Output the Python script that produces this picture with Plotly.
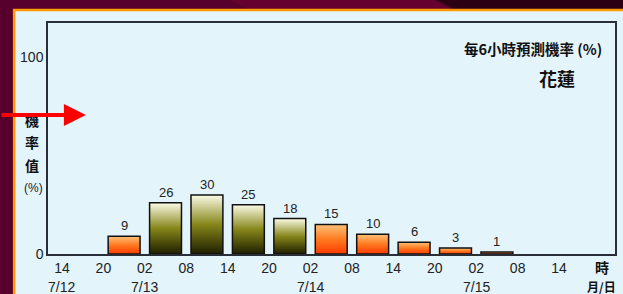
import plotly.graph_objects as go

# ---- data ----
hour_labels = ["14", "20", "02", "08", "14", "20", "02", "08", "14", "20", "02", "08", "14"]
date_labels = {0: "7/12", 2: "7/13", 6: "7/14", 10: "7/15"}
prob = [None, 9, 26, 30, 25, 18, 15, 10, 6, 3, 1, None, None]
bar_kind = ["o", "o", "g", "g", "g", "g", "o", "o", "o", "o", "o", "o", "o"]

W, H = 623, 294
L, R, T, B = 48, 617, 23, 254
pw, ph = R - L, B - T


def px(x):
    return (x - L) / pw


def py(y):
    return (B - y) / ph


GRAD = {
    "o": [[0, "#ff3a00"], [0.5, "#ff7a20"], [1, "#ffc27a"]],
    "g": [[0, "#1e1e00"], [0.5, "#86861a"], [1, "#fbfbe6"]],
}
BW = 0.77

fig = go.Figure()
annos = []
for i, v in enumerate(prob):
    if not v:
        continue
    c = i + 0.5
    fig.add_trace(go.Scatter(
        x=[c - BW / 2, c - BW / 2, c + BW / 2, c + BW / 2, c - BW / 2],
        y=[0, v, v, 0, 0],
        mode="lines", fill="toself",
        fillgradient=dict(type="vertical", colorscale=GRAD[bar_kind[i]]),
        line=dict(color="#111111", width=1.5),
        hoverinfo="skip", showlegend=False,
    ))
    annos.append(dict(x=c, y=v, xref="x", yref="y", text=str(v), showarrow=False,
                      xanchor="center", yanchor="bottom", yshift=1,
                      font=dict(family="Liberation Sans, Arial", size=13, color="#222")))

C = dict(xanchor="center", yanchor="middle", showarrow=False)
for i, d in date_labels.items():
    annos.append(dict(x=i, y=py(287), xref="x", yref="paper", text=d, **C,
                      font=dict(family="Liberation Sans, Arial", size=14, color="#222")))
annos.append(dict(x=13.03, y=py(267), xref="x", yref="paper", text="<b>時</b>", **C,
                  font=dict(family="Noto Sans CJK TC", size=14, color="#111")))
annos.append(dict(x=13.03, y=py(286), xref="x", yref="paper", text="<b>月/日</b>", **C,
                  font=dict(family="Noto Sans CJK TC", size=12, color="#111")))
# y-axis title, stacked
for ch, yy in [("機", 120), ("率", 142), ("值", 165)]:
    annos.append(dict(x=px(32), y=py(yy), xref="paper", yref="paper", text="<b>" + ch + "</b>", **C,
                      font=dict(family="Noto Sans CJK TC", size=14, color="#111")))
annos.append(dict(x=px(33), y=py(188), xref="paper", yref="paper", text="(%)", **C,
                  font=dict(family="Liberation Sans, Arial", size=12, color="#222")))
# top-right texts
annos.append(dict(x=px(606), y=py(49), xref="paper", yref="paper", xanchor="right", yanchor="middle",
                  text="<b>每6小時預測機率 (%)</b>", showarrow=False,
                  font=dict(family="Noto Sans CJK TC", size=14.5, color="#111")))
annos.append(dict(x=px(559), y=py(78), xref="paper", yref="paper",
                  text="<b>花蓮</b>", **C,
                  font=dict(family="Noto Sans CJK TC", size=18, color="#111")))
# red arrow
annos.append(dict(x=px(86), y=py(115), xref="paper", yref="paper", text="",
                  showarrow=True, ax=-86, ay=0, arrowcolor="#ff0000", arrowwidth=4,
                  arrowhead=2, arrowsize=1.1))

shapes = [
    dict(type="path", xref="paper", yref="paper", layer="below", line=dict(width=0),
         fillcolor="#66002f",
         path=f"M {px(230)} {py(0)} L {px(437)} {py(0)} L {px(457)} {py(10)} L {px(250)} {py(10)} Z"),
    dict(type="path", xref="paper", yref="paper", layer="below", line=dict(width=0),
         fillcolor="#2a0012",
         path=f"M {px(437)} {py(0)} L {px(630)} {py(0)} L {px(630)} {py(10)} L {px(457)} {py(10)} Z"),
    dict(type="rect", xref="paper", yref="paper", layer="below",
         x0=px(14), x1=px(630), y0=py(300), y1=py(10),
         fillcolor="#e3f4fb", line=dict(color="#ff9a00", width=2.5)),
]

fig.update_layout(
    width=W, height=H,
    margin=dict(l=L, r=W - R, t=T, b=H - B, pad=0),
    paper_bgcolor="#57002d", plot_bgcolor="#e3f4fb",
    showlegend=False,
    annotations=annos, shapes=shapes,
    xaxis=dict(range=[-0.337, 13.35], tickmode="array", tickvals=list(range(13)),
               ticktext=hour_labels, ticks="", ticklen=0, showgrid=False, zeroline=False,
               showline=True, linecolor="#2a2e36", linewidth=1.5, mirror=True,
               ticklabelstandoff=0,
               tickfont=dict(family="Liberation Sans, Arial", size=14, color="#222")),
    yaxis=dict(range=[0, 117.3], tickmode="array", tickvals=[0, 100], ticktext=["0", "100"],
               ticks="", ticklen=0, showgrid=False, zeroline=False,
               showline=True, linecolor="#2a2e36", linewidth=1.5, mirror=True,
               ticklabelstandoff=0,
               tickfont=dict(family="Liberation Sans, Arial", size=14, color="#222")),
)

fig.write_html("out.html", config={"displayModeBar": False},
               post_script="document.body.style.margin='0';document.body.style.padding='0';"
                           "document.body.style.overflow='hidden';")
